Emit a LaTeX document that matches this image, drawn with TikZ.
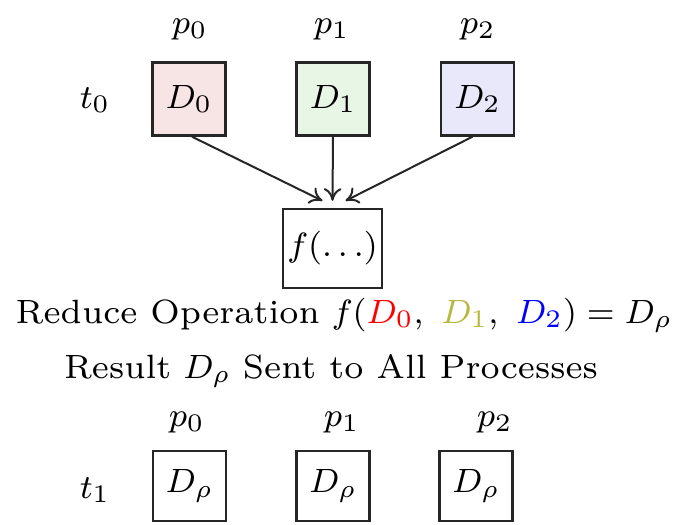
\documentclass[tikz,border=0pt]{standalone}
\usepackage{graphicx}
\usetikzlibrary{arrows.meta}
\newlength\pxu
\setlength\pxu{0.2375pt}
\newcommand\wtxt[1]{\scalebox{1.1429}{\scriptsize #1}}
\definecolor{dzero}{rgb}{0.97,0.90,0.90}
\definecolor{done}{rgb}{0.91,0.97,0.90}
\definecolor{dtwo}{rgb}{0.91,0.91,0.98}
\definecolor{olivetext}{rgb}{0.72,0.72,0.25}
\begin{document}
\begin{tikzpicture}[x=\pxu,y=-\pxu,
  every node/.style={font=\footnotesize},
  databox/.style={draw=black!85,line width=2.4\pxu,minimum width=73\pxu,minimum height=73\pxu,inner sep=0pt},
  resbox/.style={draw=black!85,line width=2.4\pxu,minimum width=73\pxu,minimum height=70\pxu,inner sep=0pt},
  fbox/.style={draw=black!85,line width=2.4\pxu,minimum width=99\pxu,minimum height=79\pxu,inner sep=0pt},
  conn/.style={draw=black!85,line width=2\pxu,-{To[length=3pt,width=4.2pt]}}]
\useasboundingbox (0,0) rectangle (677,524);
% top row
\node (p0a) at (190,30) {$p_0$};
\node (p1a) at (332,30) {$p_1$};
\node (p2a) at (478,30) {$p_2$};
\node (t0) at (95,100) {$t_0$};
\node[databox,fill=dzero] (D0) at (189,99) {$D_0$};
\node[databox,fill=done] (D1) at (333,99) {$D_1$};
\node[databox,fill=dtwo] (D2) at (477.5,99) {$D_2$};
\node[fbox] (f) at (332.5,248.5) {$f(\ldots)$};
\draw[conn] ([xshift=3\pxu]D0.south) -- ([xshift=-10\pxu,yshift=7\pxu]f.north);
\draw[conn] (D1.south) -- ([yshift=7\pxu]f.north);
\draw[conn] ([xshift=-5\pxu]D2.south) -- ([xshift=13\pxu,yshift=7\pxu]f.north);
% captions
\node[anchor=base] (cap1) at (344,323) {\wtxt{Reduce Operation} $f({\color{red}D_0},\ {\color{olivetext}D_1},\ {\color{blue}D_2}) = D_\rho$};
\node[anchor=base] (cap2) at (331,378) {\wtxt{Result} $D_\rho$ \wtxt{Sent to All Processes}};
% bottom row
\node (p0b) at (187,423) {$p_0$};
\node (p1b) at (342,423) {$p_1$};
\node (p2b) at (495,423) {$p_2$};
\node (t1) at (95,490) {$t_1$};
\node[resbox] (R0) at (189.5,486) {$D_\rho$};
\node[resbox] (R1) at (333,486) {$D_\rho$};
\node[resbox] (R2) at (476,486) {$D_\rho$};
\end{tikzpicture}
\end{document}
